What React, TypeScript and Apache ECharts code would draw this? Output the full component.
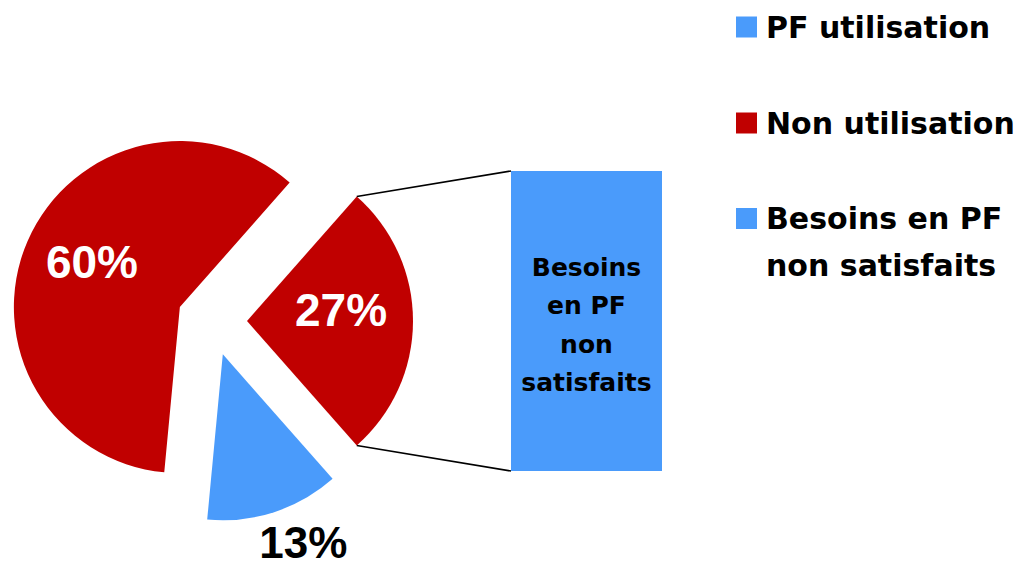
import React, { useEffect, useRef } from 'react';
import * as echarts from 'echarts';

// ---- data ----
const sliceNames = ['Besoins en PF non satisfaits', 'PF utilisation', 'Non utilisation'];
const sliceValues = [27, 13, 60];
const sliceLabels = ['27%', '13%', '60%'];
const barCategories = ['Besoins en PF non satisfaits'];
const barValues = [27];
const barLabel = 'Besoins\nen PF\nnon\nsatisfaits';
const legendNames = ['PF utilisation', 'Non utilisation', 'Besoins en PF non satisfaits'];
const legendTexts = ['PF utilisation', 'Non utilisation', ' \nBesoins en PF\nnon satisfaits'];

// ---- styles ----
const RED = '#C00000';
const BLUE = '#4A9BFB';
const sliceColors = [RED, BLUE, RED];
const legendColors = [BLUE, RED, BLUE];
const FONT = 'DejaVu Sans';
const PCT_FONT = 'Liberation Sans';

const PIE_CX = 212;
const PIE_CY = 321;
const PIE_R = 166;
const EXPLODE = 35;
const labelShift: number[][] = [
  [8, -11],
  [54, 106],
  [-9, -11],
];
const legendTops = [12, 108, 148];

export default function App() {
  const ref = useRef<HTMLDivElement>(null);

  useEffect(() => {
    if (!ref.current) return;
    const chart = echarts.init(ref.current, null, { renderer: 'svg' });
    const total = sliceValues.reduce((a, b) => a + b, 0);
    const halfAngle = (sliceValues[0] / total) * 180;

    const option: any = {
      animation: false,
      backgroundColor: '#ffffff',
      legend: legendNames.map((n, i) => ({
        show: true,
        selectedMode: false,
        orient: 'vertical',
        left: 736,
        top: legendTops[i],
        padding: 0,
        itemWidth: 21,
        itemHeight: 21,
        icon: 'rect',
        data: [{ name: n, itemStyle: { color: legendColors[i] } }],
        formatter: () => legendTexts[i],
        textStyle: {
          fontFamily: FONT,
          fontWeight: 'bold',
          fontSize: 30,
          color: '#000',
          lineHeight: i === 2 ? 47 : 30,
          padding: [0, 0, 0, 4],
        },
      })),
      grid: { left: 511, top: 171, width: 151, height: 300 },
      xAxis: { type: 'category', data: barCategories, show: false },
      yAxis: { type: 'value', min: 0, max: barValues[0], show: false, splitLine: { show: false } },
      series: [
        {
          type: 'pie',
          name: 'pie',
          center: [PIE_CX, PIE_CY],
          radius: PIE_R,
          startAngle: halfAngle,
          clockwise: true,
          selectedMode: 'multiple',
          selectedOffset: EXPLODE,
          avoidLabelOverlap: false,
          silent: true,
          emphasis: { disabled: true, scale: false },
          labelLine: { show: false },
          label: {
            show: true,
            position: 'inside',
            fontFamily: PCT_FONT,
            fontWeight: 'bold',
            fontSize: 46,
            color: '#fff',
            formatter: (p: any) => sliceLabels[p.dataIndex],
          },
          labelLayout: (p: any) => ({ dx: labelShift[p.dataIndex][0], dy: labelShift[p.dataIndex][1] }),
          data: sliceNames.map((n, i) => ({
            name: n,
            value: sliceValues[i],
            selected: true,
            itemStyle: { color: sliceColors[i] },
            label: i === 1 ? { color: '#000', fontSize: 44 } : undefined,
          })),
        },
        {
          type: 'bar',
          name: 'bar',
          silent: true,
          barWidth: '100%',
          data: barValues,
          itemStyle: { color: BLUE },
          label: {
            show: true,
            position: 'inside',
            formatter: () => barLabel,
            fontFamily: FONT,
            fontWeight: 'bold',
            fontSize: 25,
            lineHeight: 38.5,
            color: '#000',
            offset: [0, 4],
          },
        },
      ],
    };
    chart.setOption(option);

    // connector lines from the 27% slice edges to the bar's corners
    const apexX = PIE_CX + EXPLODE;
    const apexY = PIE_CY;
    const a = (halfAngle * Math.PI) / 180;
    const topCorner = [apexX + PIE_R * Math.cos(a), apexY - PIE_R * Math.sin(a)];
    const botCorner = [apexX + PIE_R * Math.cos(a), apexY + PIE_R * Math.sin(a)];
    const barTop = chart.convertToPixel({ gridIndex: 0 }, [0, barValues[0]]) as number[];
    const barBot = chart.convertToPixel({ gridIndex: 0 }, [0, 0]) as number[];
    const barLeft = 511;
    chart.setOption({
      graphic: [
        {
          type: 'line',
          shape: { x1: topCorner[0], y1: topCorner[1], x2: barLeft, y2: barTop[1] },
          style: { stroke: '#000', lineWidth: 1.6 },
          silent: true,
        },
        {
          type: 'line',
          shape: { x1: botCorner[0], y1: botCorner[1], x2: barLeft, y2: barBot[1] },
          style: { stroke: '#000', lineWidth: 1.6 },
          silent: true,
        },
      ],
    });

    return () => chart.dispose();
  }, []);

  return (
    <div
      ref={ref}
      style={{ position: 'fixed', left: 0, top: 0, width: 1021, height: 568 }}
    />
  );
}
